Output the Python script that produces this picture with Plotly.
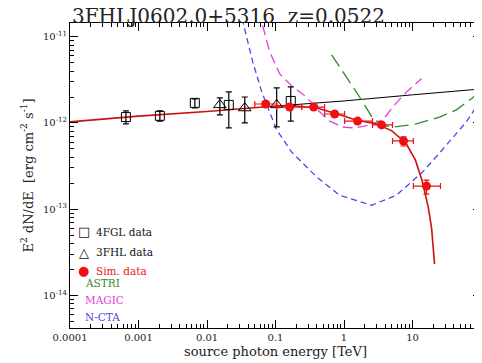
import plotly.graph_objects as go

# ---------------- data ----------------
fgl_e = [6.55e-4, 2.05e-3, 6.64e-3, 0.0208, 0.167]
fgl_f = [1.17e-12, 1.21e-12, 1.71e-12, 1.62e-12, 1.80e-12]
fgl_hi = [1.38e-12, 1.38e-12, 1.90e-12, 2.29e-12, 2.62e-12]
fgl_lo = [0.973e-12, 1.05e-12, 1.49e-12, 0.875e-12, 1.05e-12]

fhl_e = [0.0154, 0.0356, 0.104]
fhl_f = [1.62e-12, 1.49e-12, 1.62e-12]
fhl_hi = [1.95e-12, 2.00e-12, 2.55e-12]
fhl_lo = [1.24e-12, 1.00e-12, 0.90e-12]

sim_e = [0.0719, 0.161, 0.361, 0.73, 1.58, 3.53, 7.39, 16.0]
sim_f = [1.66e-12, 1.53e-12, 1.53e-12, 1.27e-12, 1.05e-12, 0.948e-12, 0.618e-12, 1.85e-13]
sim_elo = [0.0498, 0.104, 0.241, 0.521, 1.02, 2.61, 5.11, 10.3]
sim_ehi = [0.104, 0.241, 0.521, 1.02, 2.61, 5.11, 10.3, 25.6]
sim_fhi = [1.72e-12, 1.59e-12, 1.59e-12, 1.32e-12, 1.09e-12, 0.99e-12, 0.69e-12, 2.17e-13]
sim_flo = [1.60e-12, 1.47e-12, 1.47e-12, 1.22e-12, 1.01e-12, 0.91e-12, 0.54e-12, 1.49e-13]

abs_e = [1e-4, 1e-3, 0.01, 0.1, 0.2, 0.4, 0.7, 1.5, 3.0, 5.0, 8.0, 11.0, 14.0, 17.0, 19.0, 21.0]
abs_f = [1.03e-12, 1.20e-12, 1.36e-12, 1.57e-12, 1.57e-12, 1.49e-12, 1.31e-12, 1.08e-12,
         0.97e-12, 0.81e-12, 0.585e-12, 0.372e-12, 2.06e-13, 1.05e-13, 6.0e-14, 2.3e-14]

int_e = [0.1, 0.3, 1.0, 10.0, 100.0]
int_f = [1.57e-12, 1.66e-12, 1.80e-12, 2.12e-12, 2.48e-12]

cta_e = [0.030, 0.0466, 0.063, 0.104, 0.172, 0.398, 0.862, 2.52, 5.84, 14.0, 24.8, 61.2, 94.8]
cta_f = [2.1e-11, 5.1e-12, 2.29e-12, 8.3e-13, 4.6e-13, 2.36e-13, 1.45e-13, 1.11e-13,
         1.45e-13, 2.69e-13, 4.48e-13, 1.03e-12, 1.75e-12]

magic_e = [0.0569, 0.0822, 0.115, 0.178, 0.285, 0.412, 0.617, 0.955, 1.43, 2.36, 3.66, 5.47, 8.18, 13.5]
magic_f = [2.0e-11, 6.7e-12, 3.71e-12, 2.62e-12, 2.0e-12, 1.42e-12, 1.05e-12, 0.898e-12,
           0.875e-12, 0.948e-12, 1.08e-12, 1.62e-12, 2.29e-12, 3.25e-12]

astri_e = [0.659, 1.69, 2.61, 3.91, 5.47, 11.4, 24.8, 43.8, 75.0, 100.0]
astri_f = [6.18e-12, 2.0e-12, 1.14e-12, 0.923e-12, 0.898e-12, 0.973e-12, 1.17e-12, 1.42e-12, 1.95e-12, 2.42e-12]

x_ticks = [1e-4, 1e-3, 1e-2, 0.1, 1, 10, 100]
x_ticktext = ["0.0001", "0.001", "0.01", "0.1", "1", "10", "100"]
y_ticks = [1e-14, 1e-13, 1e-12, 1e-11]
y_ticktext = ["10<sup>-14</sup>", "10<sup>-13</sup>", "10<sup>-12</sup>", "10<sup>-11</sup>"]

# minor tick positions (2..9 within each decade)
x_minor = [m * 10.0 ** d for d in range(-4, 2) for m in range(2, 10)]
y_minor = [m * 10.0 ** d for d in range(-15, -10) for m in range(2, 10)]

# ---------------- figure ----------------
SERIF = "DejaVu Serif"
RED = "#ee1111"
CURVE_RED = "#cc1111"
GREEN = "#2e8b2e"
MAGENTA = "#e040e0"
BLUE = "#4a4ae8"
TXT = "#222222"

fig = go.Figure()

fig.add_trace(go.Scatter(x=int_e, y=int_f, mode="lines",
                         line=dict(color="black", width=1)))
fig.add_trace(go.Scatter(x=cta_e, y=cta_f, mode="lines",
                         line=dict(color=BLUE, width=1.3, dash="6px,4px")))
fig.add_trace(go.Scatter(x=magic_e, y=magic_f, mode="lines",
                         line=dict(color=MAGENTA, width=1.3, dash="10px,5px")))
fig.add_trace(go.Scatter(x=astri_e, y=astri_f, mode="lines",
                         line=dict(color=GREEN, width=1.3, dash="14px,6px")))
fig.add_trace(go.Scatter(x=abs_e, y=abs_f, mode="lines",
                         line=dict(color=CURVE_RED, width=1.6)))

fig.add_trace(go.Scatter(
    x=fgl_e, y=fgl_f, mode="markers",
    marker=dict(symbol="square-open", size=9, color="black", line=dict(width=1)),
    error_y=dict(type="data", symmetric=False,
                 array=[h - f for h, f in zip(fgl_hi, fgl_f)],
                 arrayminus=[f - l for f, l in zip(fgl_f, fgl_lo)],
                 color="black", thickness=1.2, width=3)))
fig.add_trace(go.Scatter(
    x=fhl_e, y=fhl_f, mode="markers",
    marker=dict(symbol="triangle-up-open", size=11, color="black", line=dict(width=1)),
    error_y=dict(type="data", symmetric=False,
                 array=[h - f for h, f in zip(fhl_hi, fhl_f)],
                 arrayminus=[f - l for f, l in zip(fhl_f, fhl_lo)],
                 color="black", thickness=1.2, width=3)))
fig.add_trace(go.Scatter(
    x=sim_e, y=sim_f, mode="markers",
    marker=dict(symbol="circle", size=9, color=RED),
    error_x=dict(type="data", symmetric=False,
                 array=[h - e for h, e in zip(sim_ehi, sim_e)],
                 arrayminus=[e - l for e, l in zip(sim_e, sim_elo)],
                 color=RED, thickness=1.2, width=3),
    error_y=dict(type="data", symmetric=False,
                 array=[h - f for h, f in zip(sim_fhi, sim_f)],
                 arrayminus=[f - l for f, l in zip(sim_f, sim_flo)],
                 color=RED, thickness=1.2, width=3)))

axis_common = dict(
    type="log", showline=True, linecolor="black", linewidth=1, mirror="allticks",
    ticks="inside", ticklen=8, tickcolor="black", tickwidth=1,
    showgrid=False, zeroline=False, tickmode="array",
    tickfont=dict(family=SERIF, size=10, color=TXT),
)

# page body has an 8px margin: figure is sized/offset to compensate
fig.update_layout(
    width=474, height=355,
    margin=dict(l=62, r=1, t=15, b=35),
    paper_bgcolor="white", plot_bgcolor="white",
    showlegend=False,
    xaxis=dict(axis_common, range=[-4, 2], tickvals=x_ticks, ticktext=x_ticktext,
               minor=dict(tickmode="array", tickvals=x_minor, ticks="inside", ticklen=4,
                          tickcolor="black", showgrid=False),
               title=dict(text="source photon energy [TeV]",
                          font=dict(family=SERIF, size=13, color=TXT), standoff=4)),
    yaxis=dict(axis_common, range=[-14.38, -10.84], tickvals=y_ticks, ticktext=y_ticktext,
               minor=dict(tickmode="array", tickvals=y_minor, ticks="inside", ticklen=4,
                          tickcolor="black", showgrid=False),
               title=dict(text="E<sup>2</sup> dN/dE  [erg cm<sup>-2</sup> s<sup>-1</sup>]",
                          font=dict(family=SERIF, size=13, color=TXT), standoff=6)),
)

# title
fig.add_annotation(text="3FHLJ0602.0+5316  z=0.0522", xref="paper", yref="paper",
                   x=0.0, y=1.0, xanchor="left", yanchor="bottom", yshift=-7, showarrow=False,
                   font=dict(family=SERIF, size=20, color=TXT))

# legend
legend_items = [
    ("\u25a1", "4FGL data", "#111111", 0.315, True),
    ("\u25b3", "3FHL data", "#111111", 0.249, True),
    ("\u25cf", "Sim. data", RED, 0.187, True),
    ("", "ASTRI", GREEN, 0.148, False),
    ("", "MAGIC", MAGENTA, 0.092, False),
    ("", "N-CTA", BLUE, 0.036, False),
]
for sym, label, col, yp, has_sym in legend_items:
    if has_sym:
        fig.add_annotation(text=sym, xref="paper", yref="paper", x=0.034, y=yp,
                           xanchor="center", yanchor="middle", showarrow=False,
                           font=dict(family="DejaVu Sans", size=13, color=col))
        fig.add_annotation(text=label, xref="paper", yref="paper", x=0.058, y=yp,
                           xanchor="left", yanchor="middle", showarrow=False,
                           font=dict(family=SERIF, size=10.5, color=col))
    else:
        fig.add_annotation(text=label, xref="paper", yref="paper", x=0.032, y=yp,
                           xanchor="left", yanchor="middle", showarrow=False,
                           font=dict(family=SERIF, size=10.5, color=col))

fig.write_html("out.html")
